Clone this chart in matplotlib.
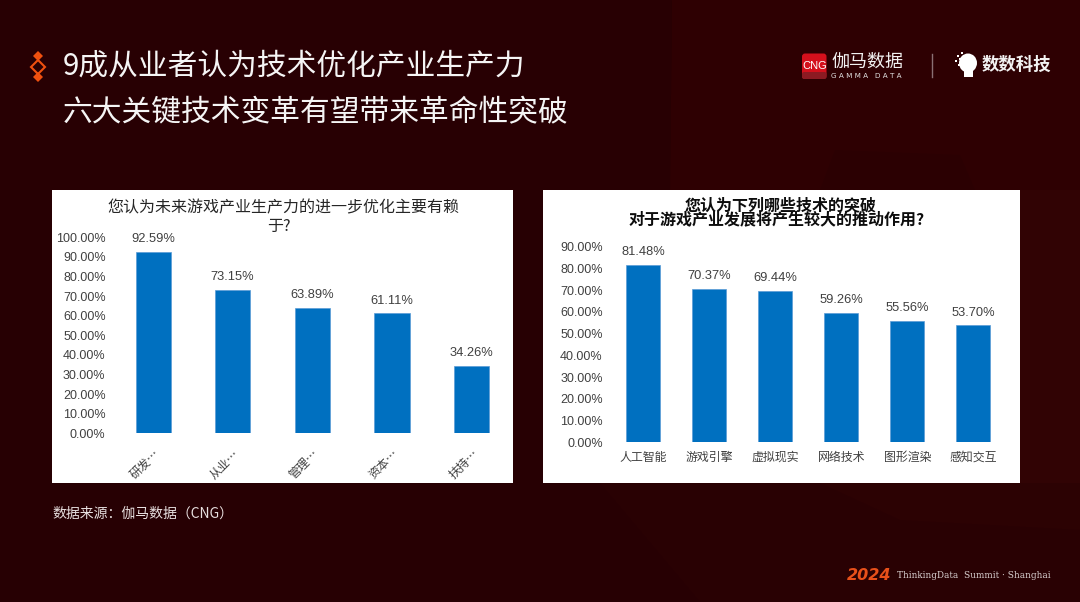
import matplotlib
matplotlib.use('Agg')
import matplotlib.pyplot as plt
from matplotlib.patches import Rectangle, FancyBboxPatch, Polygon, Ellipse

plt.rcParams['font.family'] = ['Noto Sans CJK SC', 'DejaVu Sans']

W, H = 1080, 602

title_lines = ['9成从业者认为技术优化产业生产力', '六大关键技术变革有望带来革命性突破']
source_text = '数据来源\uff1a伽马数据\uff08CNG\uff09'

left_title = ['您认为未来游戏产业生产力的进一步优化主要有赖', '于?']
left_cats = ['研发…', '从业…', '管理…', '资本…', '扶持…']
left_vals = [92.59, 73.15, 63.89, 61.11, 34.26]
left_ticks = [0, 10, 20, 30, 40, 50, 60, 70, 80, 90, 100]

right_title = ['您认为下列哪些技术的突破', '对于游戏产业发展将产生较大的推动作用?']
right_cats = ['人工智能', '游戏引擎', '虚拟现实', '网络技术', '图形渲染', '感知交互']
right_vals = [81.48, 70.37, 69.44, 59.26, 55.56, 53.70]
right_ticks = [0, 10, 20, 30, 40, 50, 60, 70, 80, 90]

BG = '#270003'
BLUE = '#0070c0'
ORANGE = '#f0500f'
num_font = ['Liberation Sans', 'Noto Sans CJK SC']


def px_axes(fig, x0, y0, x1, y1, **kw):
    # pixel box, y measured from the top of the picture
    return fig.add_axes([x0 / W, 1 - y1 / H, (x1 - x0) / W, (y1 - y0) / H], **kw)


def bars(ax, cats, vals, ticks, width, top):
    pos = list(range(len(cats)))
    ax.bar(pos, vals, width=width, color=BLUE, edgecolor='#5b9bd5', linewidth=0.5)
    ax.set_xlim(-0.5, len(cats) - 0.5)
    ax.set_ylim(0, top)
    ax.set_yticks(ticks)
    ax.set_yticklabels(['%.2f%%' % t for t in ticks], family=num_font, fontsize=9, color='#404040')
    ax.set_xticks(pos)
    ax.tick_params(length=0)
    for s in ax.spines.values():
        s.set_visible(False)
    ax.patch.set_alpha(0)
    for p, v in zip(pos, vals):
        ax.annotate('%.2f%%' % v, (p, v), xytext=(0, 5), textcoords='offset points', ha='center',
                    va='bottom', family=num_font, fontsize=9.3, color='#404040')


fig = plt.figure(figsize=(W / 100, H / 100), dpi=100, facecolor=BG)

# full picture layer in pixels, for background, panels, logos
bg = px_axes(fig, 0, 0, W, H)
bg.set_xlim(0, W)
bg.set_ylim(H, 0)
bg.axis('off')

# faint texture behind the panels
bg.add_patch(Polygon([(672, 0), (1080, 0), (1080, 190), (670, 190)], color='#2e0002', lw=0))
bg.add_patch(Polygon([(0, 0), (672, 0), (670, 190), (0, 190)], color='#280003', lw=0))
bg.add_patch(Polygon([(820, 190), (835, 150), (960, 155), (975, 190)], color='#2b0002', lw=0))
bg.add_patch(Rectangle((1020, 190), 60, 293, color='#310304', lw=0))
bg.add_patch(Polygon([(600, 483), (1080, 483), (1080, 602), (700, 602)], color='#290103', lw=0))
bg.add_patch(Polygon([(820, 483), (1080, 483), (1080, 530), (900, 520)], color='#2c0203', lw=0))

bg.add_patch(Rectangle((52, 190), 461, 293, color='white', lw=0))
bg.add_patch(Rectangle((543, 190), 477, 293, color='white', lw=0))

# title marker
bg.plot([38.3], [55.7], marker='D', ms=4.6, color=ORANGE, mew=0)
bg.plot([38.3], [66.7], marker='D', ms=7, mfc='none', mec=ORANGE, mew=1.5)
bg.plot([38.3], [77], marker='D', ms=4.6, color=ORANGE, mew=0)

bg.text(63, 66, title_lines[0], fontsize=21.4, color='#f5f5f5', va='center')
bg.text(63, 113, title_lines[1], fontsize=21.4, color='#f5f5f5', va='center')

# logos
bg.add_patch(FancyBboxPatch((802, 53.5), 24.5, 25.5, boxstyle='round,pad=0,rounding_size=3', color='#d4101c', lw=0))
bg.add_patch(FancyBboxPatch((802, 72), 24.5, 7, boxstyle='round,pad=0,rounding_size=2', color='#8c1a22', lw=0))
bg.text(814.3, 66, 'CNG', fontsize=8, color='white', ha='center', va='center', family=['Liberation Sans'])
bg.text(831, 62, '伽马数据', fontsize=13, color='#f2f2f2', va='center')
bg.text(831, 76, 'G A M M A   D A T A', fontsize=5.2, color='#e0e0e0', va='center', family=['DejaVu Sans'])
bg.plot([932, 932], [54, 77], color='#8a7073', lw=1)
bg.add_patch(Ellipse((968, 63), 18, 19, color='white', lw=0))
bg.add_patch(Rectangle((964, 68), 9, 9, color='white', lw=0))
bg.scatter([958, 962, 956, 960, 964, 959], [56, 53, 61, 59, 57, 65], s=4, marker='s', color='white', lw=0)
bg.text(982, 65, '数数科技', fontsize=12.5, color='#f2f2f2', va='center', weight='bold')

bg.text(52, 514, source_text, fontsize=10, color='#e8e0e0', va='center')

# footer
bg.text(847, 575, '2024', fontsize=11.5, color='#e8501a', style='italic', weight='bold', va='center', family=['DejaVu Sans'])
bg.text(897, 575, 'ThinkingData  Summit · Shanghai', fontsize=6.4, color='#d8d0d0', va='center', family=['DejaVu Serif'])

# left chart
ax1 = px_axes(fig, 113.2, 237.2, 511.5, 433.3)
bars(ax1, left_cats, left_vals, left_ticks, 0.44, 100)
ax1.set_xticklabels(left_cats, rotation=45, ha='right', rotation_mode='anchor', fontsize=8.6, color='#404040')
ax1.tick_params(axis='x', pad=10)
ax1.tick_params(axis='y', pad=5.5)
bg.text(283, 207.7, left_title[0], fontsize=11.5, color='#262626', ha='center', va='center')
bg.text(279, 226.7, left_title[1], fontsize=11.5, color='#262626', ha='center', va='center')

# right chart
ax2 = px_axes(fig, 610.3, 246.5, 1006.3, 442.3)
bars(ax2, right_cats, right_vals, right_ticks, 0.51, 90)
ax2.set_xticklabels(right_cats, fontsize=8.6, color='#404040', va='baseline')
ax2.tick_params(axis='x', pad=13.5)
ax2.tick_params(axis='y', pad=5.5)
bg.text(781, 205, right_title[0], fontsize=11.5, color='#0d0d0d', ha='center', va='center', weight='bold')
bg.text(777, 219.5, right_title[1], fontsize=11.5, color='#0d0d0d', ha='center', va='center', weight='bold')

fig.savefig('out.png', dpi=100, facecolor=BG)
